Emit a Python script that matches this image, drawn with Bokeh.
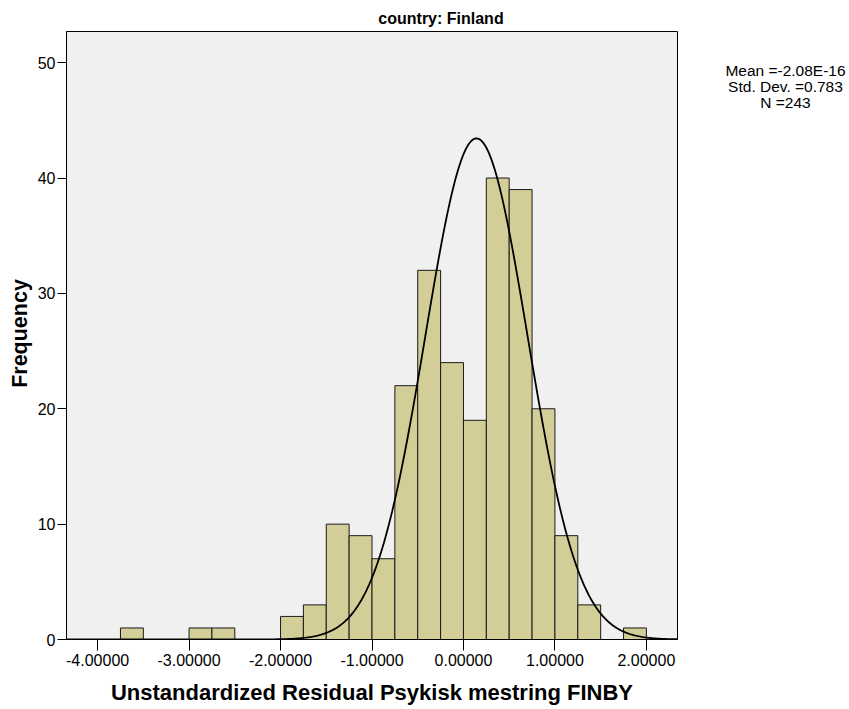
import numpy as np
from bokeh.plotting import figure
from bokeh.models import Range1d, Label, FixedTicker
from bokeh.embed import file_html
from bokeh.resources import INLINE

# ---- data ----
bin_width = 0.25
bin_starts = [-3.75, -3.00, -2.75, -2.00, -1.75, -1.50, -1.25, -1.00, -0.75,
              -0.50, -0.25, 0.00, 0.25, 0.50, 0.75, 1.00, 1.25, 1.75]
counts = [1, 1, 1, 2, 3, 10, 9, 7, 22, 32, 24, 19, 40, 39, 20, 9, 3, 1]
n_total = 243
curve_mean = 0.142
curve_sd = 0.558
x_ticks = [-4, -3, -2, -1, 0, 1, 2]
x_tick_labels = ["-4.00000", "-3.00000", "-2.00000", "-1.00000", "0.00000", "1.00000", "2.00000"]
y_ticks = [0, 10, 20, 30, 40, 50]
y_tick_labels = ["0", "10", "20", "30", "40", "50"]
title_text = "country: Finland"
stats_lines = ["Mean =-2.08E-16", "Std. Dev. =0.783", "N =243"]
x_label = "Unstandardized Residual Psykisk mestring FINBY"
y_label = "Frequency"

# ---- layout ----
W, H = 849, 709
FL, FR, FT, FB = 66, 677, 31, 639
x0, x1 = -4.34, 2.34
y0, y1 = 0, 52.7
FONT = "Liberation Sans"

p = figure(width=W, height=H, output_backend="svg", toolbar_location=None,
           x_range=Range1d(x0, x1), y_range=Range1d(y0, y1),
           min_border_left=FL, min_border_right=W - FR,
           min_border_top=FT, min_border_bottom=H - FB)
p.title.visible = False
p.background_fill_color = "#F0F0F0"
p.border_fill_color = "white"
p.outline_line_color = "black"
p.outline_line_width = 1
p.xgrid.visible = False
p.ygrid.visible = False

def px_to_data(px, py):
    dx = x0 + (px - FL) / (FR - FL) * (x1 - x0)
    dy = y0 + (FB - py) / (FB - FT) * (y1 - y0)
    return dx, dy

lefts = np.array(bin_starts)
p.quad(left=lefts, right=lefts + bin_width, bottom=0, top=counts,
       fill_color="#D3CE97", line_color="#1a1a1a", line_width=1)

xs = np.linspace(x0, x1, 500)
ys = n_total * bin_width / (curve_sd * np.sqrt(2 * np.pi)) * np.exp(-0.5 * ((xs - curve_mean) / curve_sd) ** 2)
p.line(xs, ys, line_color="black", line_width=1.8)

for ax in (p.xaxis[0], p.yaxis[0]):
    ax.axis_line_color = "black"
    ax.major_tick_line_color = "black"
    ax.minor_tick_line_color = None
    ax.major_tick_in = 0
    ax.major_label_text_font = FONT
    ax.major_label_text_font_size = "16px"
    ax.major_label_text_color = "black"

p.xaxis[0].ticker = FixedTicker(ticks=x_ticks)
p.xaxis[0].major_label_overrides = {t: l for t, l in zip(x_ticks, x_tick_labels)}
p.xaxis[0].major_tick_out = 11
p.xaxis[0].major_label_standoff = 3
p.yaxis[0].ticker = FixedTicker(ticks=y_ticks)
p.yaxis[0].major_label_overrides = {t: l for t, l in zip(y_ticks, y_tick_labels)}
p.yaxis[0].major_tick_out = 9
p.yaxis[0].major_label_standoff = 2

# Text placed in side panels (not clipped), positioned via the plot's own scales
tx, ty = px_to_data(440.5, 18)
p.add_layout(Label(x=tx, y=ty, text=title_text, text_font=FONT, text_font_size="16px",
                   text_font_style="bold", text_align="center", text_baseline="middle",
                   text_color="black"), "above")

sx, sy = px_to_data(785, 86)
p.add_layout(Label(x=sx, y=sy, text="\n".join(stats_lines), text_font=FONT, text_font_size="15.5px",
                   text_align="center", text_baseline="middle", text_line_height=0.92,
                   text_color="black"), "right")

lx, ly = px_to_data((FL + FR) / 2, 692)
p.add_layout(Label(x=lx, y=ly, text=x_label, text_font=FONT, text_font_size="22px",
                   text_font_style="bold", text_align="center", text_baseline="middle",
                   text_color="black"), "below")

yx, yy = px_to_data(19, 333)
p.add_layout(Label(x=yx, y=yy, text=y_label, text_font=FONT, text_font_size="21.5px",
                   text_font_style="bold", text_align="center", text_baseline="middle",
                   angle=np.pi / 2, text_color="black"), "left")

open("out.html", "w").write(file_html(p, INLINE))
